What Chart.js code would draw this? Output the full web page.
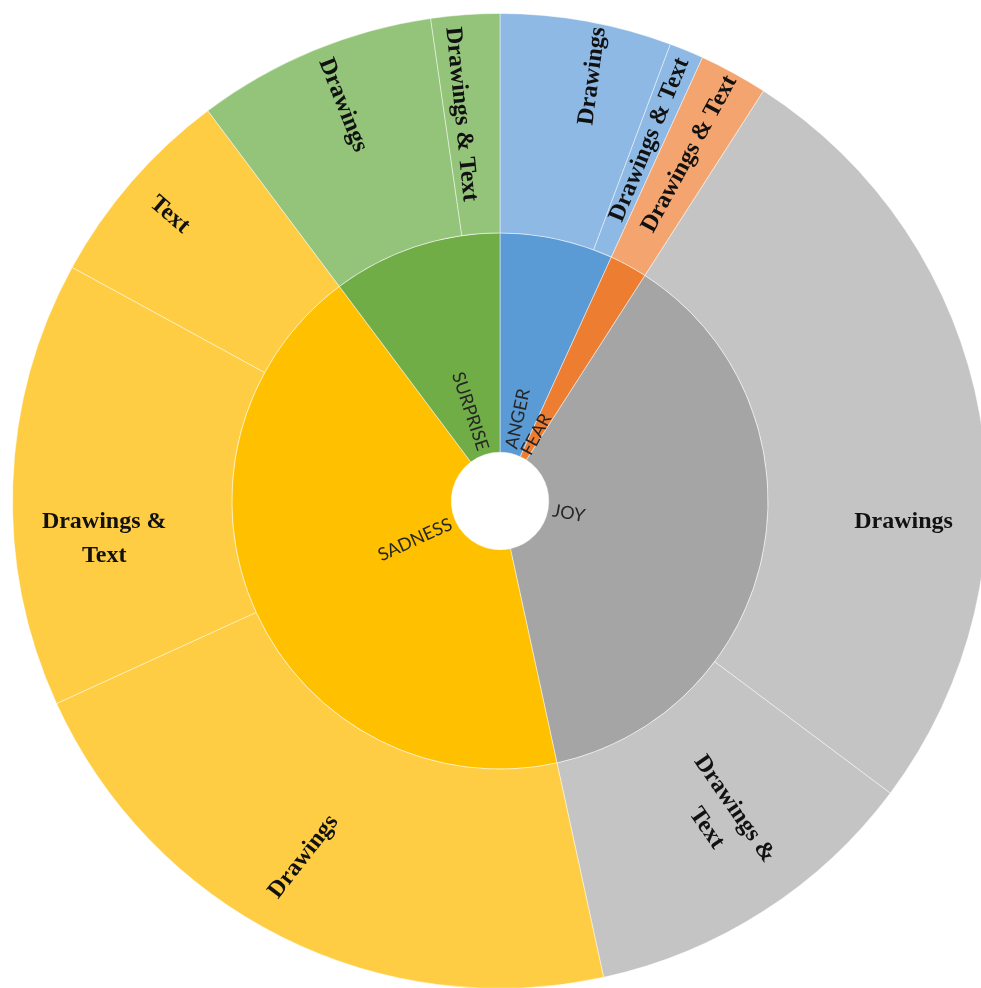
<!DOCTYPE html>
<html>
<head>
<meta charset="utf-8">
<script src="https://cdn.jsdelivr.net/npm/chart.js@4.4.1/dist/chart.umd.min.js"></script>
<style>
html, body { margin: 0; padding: 0; background: #fff; overflow: hidden; }
#wrap { width: 1000px; height: 1002px; }
</style>
</head>
<body>
<div id="wrap"><canvas id="chart" width="1000" height="1002"></canvas></div>
<script>
const emotions = ['ANGER', 'FEAR', 'JOY', 'SADNESS', 'SURPRISE'];
const innerColors = ['#5B9BD5', '#ED7D31', '#A5A5A5', '#FFC000', '#70AD47'];
const outerColors = ['#8DB9E4', '#F4A46E', '#C4C4C4', '#FFCD43', '#93C47A'];

const subParents = ['ANGER', 'ANGER', 'FEAR', 'JOY', 'JOY', 'SADNESS', 'SADNESS', 'SADNESS', 'SURPRISE', 'SURPRISE'];
const subLabels = ['Drawings', 'Drawings & Text', 'Drawings & Text', 'Drawings', 'Drawings & Text',
                   'Drawings', 'Drawings & Text', 'Text', 'Drawings', 'Drawings & Text'];
const subValues = [5, 1, 2, 23, 10, 19, 13, 6, 7, 2];

// inner ring = sum of its children
const emotionValues = emotions.map(e =>
    subValues.reduce((s, v, i) => subParents[i] === e ? s + v : s, 0));

// where each outer label sits: at = fraction along the arc, r = fraction across the ring
const outerLabelStyle = [
    { text: ['Drawings'], at: 0.6, r: 0.76, mode: 'radial', tilt: -5 },
    { text: ['Drawings & Text'], at: 0.5, r: 0.56, mode: 'radial' },
    { text: ['Drawings & Text'], at: 0.5, r: 0.58, mode: 'radial' },
    { text: ['Drawings'], at: 0.64, r: 0.62, mode: 'horizontal' },
    { text: ['Drawings &', 'Text'], at: 0.45, r: 0.54, mode: 'radial' },
    { text: ['Drawings'], at: 0.53, r: 0.63, mode: 'radial', tilt: 9 },
    { text: ['Drawings &', 'Text'], at: 0.36, r: 0.59, mode: 'horizontal' },
    { text: ['Text'], at: 0.5, r: 0.77, mode: 'radial' },
    { text: ['Drawings'], at: 0.53, r: 0.72, mode: 'radial' },
    { text: ['Drawings & Text'], at: 0.3, r: 0.55, mode: 'radial' }
];

const sunburstLabels = {
    id: 'sunburstLabels',
    afterDatasetsDraw(chart) {
        const ctx = chart.ctx;
        const props = ['x', 'y', 'startAngle', 'endAngle', 'innerRadius', 'outerRadius'];

        chart.getDatasetMeta(0).data.forEach((arc, i) => {
            const p = arc.getProps(props, true);
            const st = outerLabelStyle[i];
            const a = p.startAngle + (p.endAngle - p.startAngle) * st.at;
            const r = p.innerRadius + (p.outerRadius - p.innerRadius) * st.r;
            let rot = 0;
            if (st.mode === 'radial') rot = Math.cos(a) >= 0 ? a : a + Math.PI;
            rot += (st.tilt || 0) * Math.PI / 180;
            ctx.save();
            ctx.translate(p.x + Math.cos(a) * r, p.y + Math.sin(a) * r);
            ctx.rotate(rot);
            ctx.font = 'bold 24px "Liberation Serif"';
            ctx.fillStyle = '#111';
            ctx.textAlign = 'center';
            ctx.textBaseline = 'middle';
            const lh = 34;
            st.text.forEach((line, k) => {
                ctx.fillText(line, 0, (k - (st.text.length - 1) / 2) * lh);
            });
            ctx.restore();
        });

        chart.getDatasetMeta(1).data.forEach((arc, i) => {
            const p = arc.getProps(props, true);
            const a = (p.startAngle + p.endAngle) / 2;
            const outward = Math.cos(a) >= 0;
            const r = p.innerRadius + 5;
            ctx.save();
            ctx.translate(p.x + Math.cos(a) * r, p.y + Math.sin(a) * r);
            ctx.rotate(outward ? a : a + Math.PI);
            ctx.font = '18px Lato';
            ctx.fillStyle = '#262626';
            ctx.textAlign = outward ? 'left' : 'right';
            ctx.textBaseline = 'middle';
            ctx.fillText(emotions[i], 0, 0);
            ctx.restore();
        });
    }
};

const ctx = document.getElementById('chart').getContext('2d');
const myChart = new Chart(ctx, {
    type: 'doughnut',
    data: {
        labels: subLabels,
        datasets: [{
            data: subValues,
            backgroundColor: subParents.map(e => outerColors[emotions.indexOf(e)]),
            borderColor: 'rgba(255,255,255,0.45)',
            borderWidth: 1
        }, {
            data: emotionValues,
            backgroundColor: innerColors,
            borderColor: 'rgba(255,255,255,0.45)',
            borderWidth: 1
        }]
    },
    options: {
        responsive: false,
        animation: false,
        events: [],
        cutout: '10%',
        layout: { padding: 12 },
        plugins: {
            legend: { display: false },
            tooltip: { enabled: false }
        }
    },
    plugins: [sunburstLabels]
});
</script>
</body>
</html>
